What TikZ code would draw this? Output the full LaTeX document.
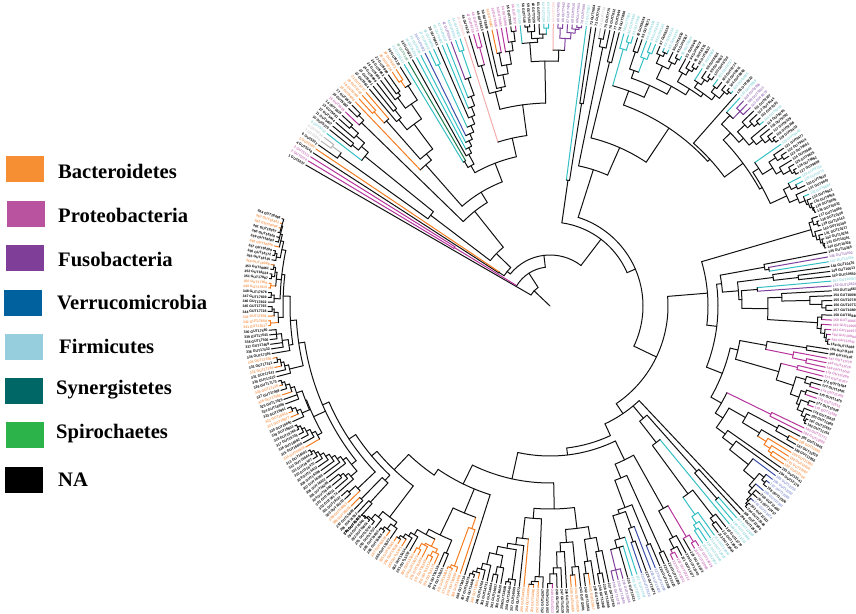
\documentclass[tikz,border=0pt]{standalone}
\usepackage{fontspec}
\setmainfont{Liberation Serif}
\newfontfamily\tipfont{Liberation Sans}
\definecolor{colk}{HTML}{111111}\definecolor{lblk}{HTML}{000000}
\definecolor{colo}{HTML}{F57C20}\definecolor{lblo}{HTML}{F79A55}
\definecolor{colm}{HTML}{B5339B}\definecolor{lblm}{HTML}{CE79BC}
\definecolor{colp}{HTML}{7E3F9C}\definecolor{lblp}{HTML}{A37CBC}
\definecolor{colb}{HTML}{3B4FA8}\definecolor{lblb}{HTML}{8A97D2}
\definecolor{colt}{HTML}{33BFC4}\definecolor{lblt}{HTML}{93D7DC}
\definecolor{colg}{HTML}{1C7A4C}\definecolor{lblg}{HTML}{6FA88A}
\definecolor{cols}{HTML}{B5B5B5}\definecolor{lbls}{HTML}{CFCFCF}
\definecolor{coli}{HTML}{F4ACAC}\definecolor{lbli}{HTML}{F8C9C9}
\tikzset{
  branch/.style={draw=col#1,line width=1pt,line cap=round},
  tiplabel/.style={text=lbl#1,font=\tipfont\bfseries\fontsize{3.5}{3.5}\selectfont,inner sep=.3pt},
  swatch/.style={minimum width=38pt,minimum height=26pt,inner sep=0pt},
  taxon/.style={font=\bfseries\fontsize{20.6}{20.6}\selectfont,anchor=west,inner sep=0pt}
}
\newcount\leafno
\def\radup{0}
\newcommand\setang[2]{\xdef\leafstep{#2}\pgfmathparse{#1+#2}\xdef\curang{\pgfmathresult}}
\newcommand\pin[1]{\def\pinang{#1}}
\newcommand\noteang{\ifx\afirst\relax\let\afirst\retang\fi\let\alast\retang}
\newcommand\tip[1][k]{%
  \global\advance\leafno by 1
  \pgfmathparse{\curang-\leafstep}\xdef\curang{\pgfmathresult}
  \pgfmathsetmacro\tipcos{cos(\curang)}
  \draw[branch=#1] (\curang:\radup pt) -- (\curang:282pt);
  \ifdim\tipcos pt<0pt
    \pgfmathsetmacro\tiprot{\curang+180}
    \node[tiplabel=#1,rotate=\tiprot,anchor=east] (tip\the\leafno) at (\curang:283pt)
      {\the\leafno\ GUT\number\numexpr 5000+37*\leafno\relax};
  \else
    \node[tiplabel=#1,rotate=\curang,anchor=west] (tip\the\leafno) at (\curang:283pt)
      {\the\leafno\ GUT\number\numexpr 5000+37*\leafno\relax};
  \fi
  \global\let\retang\curang\noteang}
\newcommand\clade[3][k]{\begingroup
  \let\outerrad\radup\def\radup{#2}\let\afirst\relax\let\pinang\relax
  #3%
  \ifx\pinang\relax
    \pgfmathsetmacro\amid{(\afirst+\alast)/2}%
  \else
    \let\afirst\pinang\let\amid\pinang
  \fi
  \draw[branch=#1] (\afirst:#2pt) arc[start angle=\afirst,end angle=\alast,radius=#2pt];
  \draw[branch=#1] (\amid:\outerrad pt) -- (\amid:#2pt);
  \xdef\retang{\amid}%
  \endgroup\noteang}
\newcommand\kT{\tip[k]}\newcommand\oT{\tip[o]}\newcommand\mT{\tip[m]}
\newcommand\pT{\tip[p]}\newcommand\bT{\tip[b]}\newcommand\tT{\tip[t]}
\newcommand\gT{\tip[g]}\newcommand\sT{\tip[s]}\newcommand\iT{\tip[i]}
\begin{document}
\begin{tikzpicture}[x=1pt,y=1pt]
\useasboundingbox (0,0) rectangle (856,613);
\foreach \i/\xs/\ys/\fillc/\xt/\yt/\name in {
  1/25/444/F68E33/58/442/Bacteroidetes,
  2/26/399/B9529F/58/398/Proteobacteria,
  3/25/355/7F3F98/58/354/Fusobacteria,
  4/23/310/01619F/57/310/Verrucomicrobia,
  5/24/266/96CEDD/59/267/Firmicutes,
  6/24/222/006666/56/223/Synergistetes,
  7/25/178/2CB34A/56/179/Spirochaetes,
  8/24/133/000000/58/133/NA}
{
  \definecolor{swatchcol}{HTML}{\fillc}
  \node[swatch,fill=swatchcol] (swatch\i) at (\xs,\ys) {};
  \node[taxon] (taxon\i) at (\xt,\yt) {\name};
}
\begin{scope}[shift={(550,307)}]
\let\afirst\relax
\setang{150}{.963}
\clade{22}{\kT
 \clade{39}{\clade[m]{112}{\mT\mT}
  \clade{51}{
   \clade{55}{\clade{61}{\kT\oT}
    \clade{75}{
     \clade{150}{
      \clade{259}{\kT\clade[s]{270}{\sT\sT}}
      \clade{238}{\tT\clade{247}{\clade{255}{\kT\kT}\clade{258}{\kT\clade{268}{\kT\kT}}}}}
     \clade{121}{
      \clade{263}{\mT\clade{270}{\kT\kT}}
      \clade{133}{
       \clade{188}{\oT
        \clade{196}{
         \clade{247}{\clade[o]{262}{\oT\oT}\oT}
         \clade{227}{\clade{240}{\kT\clade{250}{\kT\kT}}
          \clade{245}{\clade{258}{\kT\clade{262}{\kT\kT}}\clade{262}{\clade[o]{270}{\oT\oT}\kT}}}}}
       \clade{153}{
        \clade{161}{\clade{168}{\tT\gT}\clade{172}{\kT\clade{178}{\tT\clade{184}{\tT\clade{190}{\bT
          \clade{197}{\clade[t]{266}{\tT\tT}\clade{205}{\kT\clade{214}{\tT\clade{224}{\tT\clade{242}{\pT\clade[t]{270}{\tT\tT}}}}} }}}}} }
        \clade{172}{\iT
         \clade{203}{
          \clade{221}{
           \clade{250}{\kT\clade[m]{268}{\mT\mT}}
           \clade{224}{\kT\clade{236}{\kT\clade{245}{\clade{258}{\oT\mT}\clade{258}{\mT\clade{267}{\mT\clade{277}{\kT\mT}}}}}}}
          \clade{245}{
           \clade{264}{\tT\clade{268}{\clade{275}{\clade{280}{\kT\kT}\kT}\clade{272}{\kT\clade[t]{278}{\tT\tT}}}}
           \clade{256}{\iT\clade[p]{268}{\clade[p]{278}{\pT\pT}\clade[p]{274}{\pT\clade[p]{278}{\pT\clade[p]{280}{\pT\pT}}}}}
          }}}}} }}}
   \clade{84}{
    \clade{127}{\setang{82.6}{.971}\tT\clade{205}{\kT\kT}}
    \clade{93}{
     \clade{143}{
      \clade{264}{\clade{272}{\sT\kT}\kT}
      \clade{173}{\clade{251}{\kT\kT}
       \clade{214}{
        \clade{229}{\clade[t]{267}{\tT\clade[t]{275}{\tT\tT}}
         \clade{242}{\clade{250}{\clade{268}{\kT\kT}\clade[t]{265}{\tT\clade[t]{272}{\tT\tT}}}
          \clade{251}{\clade{265}{\clade{274}{\kT\clade{278}{\tT\tT}}\clade{272}{\kT\clade{278}{\kT\tT}}}
           \clade{258}{\clade{268}{\kT\clade{274}{\kT\clade{278}{\kT\kT}}}\clade{262}{\clade{268}{\tT\clade{274}{\kT\clade{278}{\kT\kT}}}\clade{268}{\clade{274}{\tT\kT}\clade{276}{\kT\clade{279}{\kT\tT}}}}}} }}
        \clade{217}{\setang{48.6}{.971}\kT
         \clade{240}{
          \clade{250}{\clade{262}{\tT\clade[p]{272}{\pT\pT\pT}}
           \clade{256}{\clade{266}{\kT\clade{272}{\kT\clade{277}{\kT\tT}}}\clade{262}{\kT\clade{270}{\kT\clade{276}{\kT\clade{279}{\kT\kT}}}}}}
          \clade{243}{
           \clade{250}{\tT\clade{262}{\clade{270}{\kT\clade{276}{\kT\kT}}\clade{268}{\kT\clade{276}{\kT\clade{279}{\kT\kT}}}}}
           \clade{261}{\clade{268}{\tT\clade{274}{\tT\kT}}\clade{270}{\kT\clade{276}{\tT\clade{278}{\kT\clade{280}{\kT\clade{281}{\kT\kT}}}}}} }}}}} }
     \clade{118}{
      \clade{158}{
       \clade{272}{\setang{18.5}{.94}\clade{276}{\kT\clade{280}{\kT\kT}}\clade{275}{\kT\clade{278}{\kT\clade{280}{\kT\clade{281}{\kT\kT}}}}}
       \clade{168}{
        \clade{173}{\setang{11}{.99}\clade{218}{\kT\clade{222}{\pT\tT}}
         \clade{189}{\clade{225}{\kT\clade{250}{\kT\kT}}
          \clade{192}{\clade{208}{\tT\pT}
           \clade{218}{\clade{232}{\kT\clade{260}{\kT\clade{272}{\kT\clade{276}{\kT\kT}}}}
            \clade{268}{\clade{272}{\kT\mT}\clade{272}{\mT\clade{276}{\mT\clade{278}{\mT\clade{280}{\mT\kT}}}}} }}}}
        \clade{185}{
         \clade{193}{\setang{-8.8}{.936}
          \clade{220}{\clade{260}{\kT\kT}\clade[m]{248}{\mT\clade[m]{262}{\mT\mT}}}
          \clade{238}{\clade[m]{255}{\mT\mT}
           \clade{256}{\clade{266}{\kT\clade{272}{\kT\mT}}\clade{265}{\clade{270}{\kT\mT}\clade{268}{\clade{276}{\kT\mT}\clade{274}{\kT\clade{278}{\kT\clade{280}{\kT\kT}}}}} }}}
         \clade{197}{\clade[m]{246}{\mT\mT}
          \clade{206}{
           \clade{225}{\clade{258}{\kT\clade{272}{\oT\kT}}\clade{245}{\kT\clade[o]{255}{\oT\clade[o]{262}{\oT\clade[o]{266}{\oT\oT}}}}}
           \clade{217}{\setang{-35}{.975}\kT\clade{230}{\kT\clade{254}{\bT\clade{268}{\clade{274}{\bT\clade{278}{\bT\kT}}\clade{272}{\bT\clade{276}{\kT\kT\clade{278}{\bT\clade{280}{\kT\kT}}}}}}}}}}} }}
      \clade{130}{\setang{-46.7}{.958}\kT
       \clade{146}{
        \clade{221}{\kT\clade{255}{\tT\tT}}
        \clade{173}{\tT\clade{233}{\clade{266}{\kT\clade{272}{\kT\kT}}\clade[t]{254}{\tT\clade[t]{262}{\tT\clade[t]{267}{\tT\tT}}}}} }
       \clade{143}{\pin{-65}
        \clade{150}{
         \clade{171}{\setang{-58.2}{.99}
          \clade{232}{\clade[m]{268}{\clade[m]{276}{\mT\mT}\kT}\clade{262}{\kT\clade{272}{\kT\clade[m]{276}{\mT\mT}}}}
          \clade{186}{\clade{270}{\kT\kT}
           \clade{215}{\clade{258}{\kT\bT}
            \clade{219}{\clade{236}{\bT\clade{250}{\kT\bT}}
             \clade{243}{\tT\clade{251}{\tT\kT\clade[p]{272}{\pT\pT\pT}}}}} }}
         \clade{177}{
          \clade{203}{
           \clade{224}{\setang{-78}{.961}
            \clade{236}{\clade{250}{\kT\clade{272}{\kT\kT}}\clade{258}{\kT\clade{270}{\oT\kT}}}
            \clade{237}{\clade{262}{\kT\clade{270}{\oT\oT}}\clade{246}{\kT\clade{262}{\kT\clade{268}{\kT\clade{278}{\mT\kT}}}}} }
           \clade{213}{
            \clade{271}{\kT\clade{276}{\oT\clade{279}{\oT\oT}}}
            \clade{234}{\setang{-95.3}{.946}\oT\clade{241}{\kT\clade{246}{\clade{276}{\kT\clade{279}{\kT\kT}}
             \clade{254}{\clade{266}{\kT\clade{274}{\kT\kT}}\clade{266}{\kT\clade{272}{\kT\clade{276}{\oT\clade{279}{\kT\kT}}}}}} }}}}
          \clade{198}{\setang{-107.6}{.939}\kT
           \clade{224}{
            \clade[o]{236}{\oT\clade[o]{277}{\oT\clade[o]{280}{\oT\oT}}}
            \clade{254}{\clade{268}{\kT\kT}
             \clade{260}{\clade[o]{268}{\clade[o]{272}{\oT\clade[o]{277}{\oT\oT}}\clade[o]{270}{\oT\clade[o]{276}{\oT\oT}}}
              \clade{266}{\kT\clade{270}{\kT\clade{274}{\oT\clade{277}{\oT\oT}}}}} }}
           \clade{205}{\pin{-124.4}
            \clade{226}{
             \clade{265}{\setang{-124.5}{.9375}\clade{270}{\kT\clade{276}{\oT\clade{279}{\kT\kT}}}\clade{272}{\kT\clade{278}{\kT\clade{280}{\kT\clade{281}{\kT\kT}}}}}
             \clade{233}{
              \clade{240}{\setang{-132}{.947}\clade{266}{\kT\kT}\clade{270}{\kT\oT}}
              \clade{241}{
               \clade{265}{\oT\clade{274}{\kT\kT}}
               \clade{248}{
                \clade{254}{\clade{262}{\kT\clade{266}{\kT\clade{270}{\kT\kT}}}\clade{258}{\kT\clade{262}{\kT\clade{266}{\kT\clade{270}{\kT\clade{274}{\kT\clade{277}{\kT\clade{280}{\kT\kT}}}}} }}}
                \clade{261}{\setang{-150}{.969}\clade{266}{\oT\clade{270}{\kT\clade{274}{\kT\clade{277}{\kT\clade{280}{\kT\kT}}}}}
                 \clade{262}{\clade{270}{\kT\clade{274}{\oT\clade{278}{\oT\kT}}}\clade{268}{\kT\kT\clade{272}{\oT\clade{276}{\kT\clade{279}{\oT\kT}}}}}}
                \clade{254}{
                 \clade{268}{\setang{-165.5}{.957}\kT\clade{272}{\kT\clade{275}{\oT\clade{278}{\kT\oT}}}}
                 \clade{260}{
                  \clade{264}{\kT\clade{270}{\kT\kT\clade{275}{\kT\kT\kT}}}
                  \clade{267}{
                   \clade{272}{\clade[o]{280}{\oT\oT}\clade{276}{\oT\clade{278}{\kT\kT}}}
                   \clade{270}{\clade{276}{\kT\clade{279}{\kT\kT}}
                    \clade{275}{\clade[o]{280}{\oT\oT}\clade{277}{\clade{280}{\kT\kT}\clade{279}{\kT\oT}}}
                    \clade{274}{\clade{278}{\kT\clade{280}{\kT\kT}}\clade{277}{\oT\clade{279}{\kT\kT\clade{280}{\kT\oT\oT\kT}}}}
                   }}}}} }}}}} }}}}} }}}}}
\end{scope}
\end{tikzpicture}
\end{document}
